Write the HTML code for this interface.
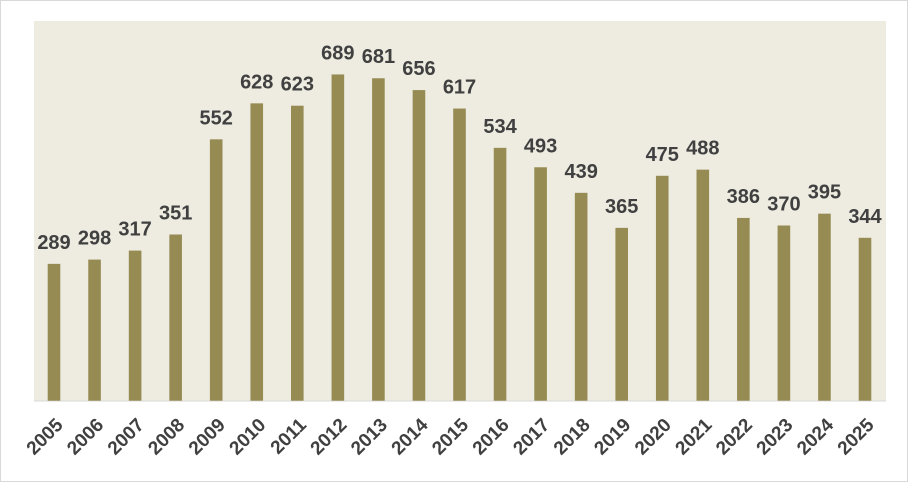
<!DOCTYPE html>
<html><head><meta charset="utf-8"><style>
html,body{margin:0;padding:0;background:#fff;}
svg{display:block;font-family:"Liberation Sans",sans-serif;}
</style></head><body>
<svg width="908" height="482" viewBox="0 0 908 482">
<rect x="0.5" y="0.5" width="907" height="481" fill="#fff" stroke="#D9D9D9"/>
<rect x="34" y="21" width="852" height="380" fill="#EEEBE0"/>
<line x1="34" y1="401" x2="886" y2="401" stroke="#D9D9D9"/>
<g id="bars"></g>
<script>
const years = ["2005","2006","2007","2008","2009","2010","2011","2012","2013","2014","2015","2016","2017","2018","2019","2020","2021","2022","2023","2024","2025"];
const values = [289,298,317,351,552,628,623,689,681,656,617,534,493,439,365,475,488,386,370,395,344];
const ns = "http://www.w3.org/2000/svg";
const g = document.getElementById("bars");
const x0 = 54, step = (865 - 54) / 20, base = 400.7, k = 0.4735, bw = 12.6;
function xPos(i){ return x0 + i * step; }
function yPos(v){ return base - v * k; }
years.forEach((yr, i) => {
  const cx = xPos(i), top = yPos(values[i]);
  const r = document.createElementNS(ns, "rect");
  r.setAttribute("x", cx - bw/2); r.setAttribute("y", top);
  r.setAttribute("width", bw); r.setAttribute("height", base - top);
  r.setAttribute("fill", "#968B53");
  
  
  g.appendChild(r);
  const t = document.createElementNS(ns, "text");
  t.setAttribute("x", cx); t.setAttribute("y", top - 15);
  t.setAttribute("text-anchor", "middle");
  t.setAttribute("font-size", "20"); t.setAttribute("font-weight", "bold");
  t.setAttribute("fill", "#404040");
  t.textContent = values[i];
  
  
  g.appendChild(t);
  const ax = cx + 10, ay = 426;
  const l = document.createElementNS(ns, "text");
  l.setAttribute("x", ax); l.setAttribute("y", ay);
  l.setAttribute("text-anchor", "end");
  l.setAttribute("transform", "rotate(-45 " + ax + " " + ay + ")");
  l.setAttribute("font-size", "19"); l.setAttribute("font-weight", "bold");
  l.setAttribute("fill", "#404040");
  l.textContent = yr;
  
  
  g.appendChild(l);
});
</script>
</svg>
</body></html>
